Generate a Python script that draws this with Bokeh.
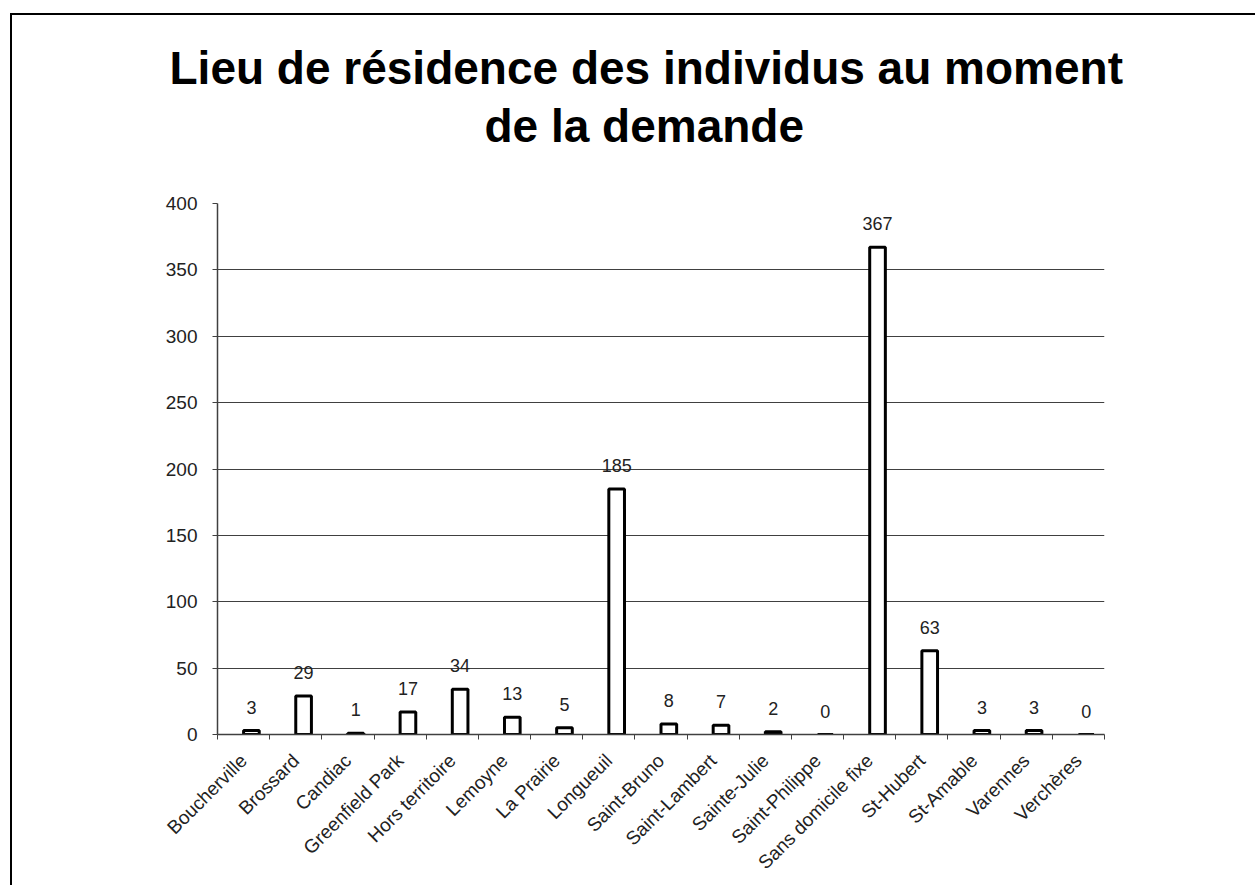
import numpy as np
from bokeh.plotting import figure
from bokeh.models import (ColumnDataSource, LabelSet, FixedTicker, Range1d, Title)
from bokeh.core.properties import value
from bokeh.embed import file_html
from bokeh.resources import INLINE

categories = ["Boucherville", "Brossard", "Candiac", "Greenfield Park",
              "Hors territoire", "Lemoyne", "La Prairie", "Longueuil",
              "Saint-Bruno", "Saint-Lambert", "Sainte-Julie", "Saint-Philippe",
              "Sans domicile fixe", "St-Hubert", "St-Amable", "Varennes",
              "Verchères"]
values = [3, 29, 1, 17, 34, 13, 5, 185, 8, 7, 2, 0, 367, 63, 3, 3, 0]
y_ticks = [0, 50, 100, 150, 200, 250, 300, 350, 400]
title_line1 = "Lieu de résidence des individus au moment"
title_line2 = "de la demande"

n = len(categories)
idx = np.arange(n)
centers = idx + 0.5
bar_x = centers + 0.15

src = ColumnDataSource(dict(x=bar_x, top=values, label=[str(v) for v in values]))

# page geometry; the chart's outer border is painted as a CSS background
W, H = 1258, 885
FL, FT, FR, FB = 217, 203, 1104, 734   # frame edges in page pixels
border_css = {
    "background-image": "linear-gradient(black, black), linear-gradient(black, black)",
    "background-position": "10px 13px, 10px 13px",
    "background-size": "2px 100%, 100% 2px",
    "background-repeat": "no-repeat",
    "background-color": "white",
}
p = figure(width=W, height=H, output_backend="svg", toolbar_location=None,
           x_range=Range1d(0, n), y_range=Range1d(0, 400),
           min_border_left=FL, min_border_right=W - FR,
           min_border_top=FT, min_border_bottom=H - FB,
           background_fill_color="white", border_fill_alpha=0,
           styles=border_css)
p.outline_line_color = None

TFS = "46px"
p.title.text = title_line1
p.title.align = "left"
p.title.offset = -48
p.title.text_font = "Liberation Sans"
p.title.text_font_size = TFS
p.title.text_font_style = "bold"
p.title.text_color = "black"
p.title.standoff = 4
spacer = Title(text=" ", text_font_size="1px", standoff=47)
p.add_layout(spacer, "above")
t2 = Title(text=title_line2, align="left", offset=267, text_font="Liberation Sans",
           text_font_size=TFS, text_font_style="bold", text_color="black",
           standoff=4)
p.add_layout(t2, "above")

p.vbar(x="x", top="top", bottom=0, width=0.3, source=src,
       fill_color="white", line_color="black", line_width=3)

labels = LabelSet(x="x", y="top", text="label", source=src, y_offset=17,
                  text_align="center", text_baseline="alphabetic",
                  text_font=value("Liberation Sans"), text_font_size="18px",
                  text_color="#222222")
p.add_layout(labels)

# axes
xax = p.xaxis[0]
xax.ticker = FixedTicker(ticks=list(centers), minor_ticks=list(range(n + 1)))
xax.major_label_overrides = {float(c): cat for c, cat in zip(centers, categories)}
xax.major_label_orientation = np.pi / 4
xax.major_tick_line_color = None
xax.minor_tick_line_color = "#404040"
xax.minor_tick_out = 5
xax.minor_tick_in = 0
xax.axis_line_color = "#404040"
xax.axis_line_width = 1.5
xax.major_label_text_font = "Liberation Sans"
xax.major_label_text_font_size = "19px"
xax.major_label_text_color = "#222222"
xax.major_label_standoff = 17

yax = p.yaxis[0]
yax.ticker = FixedTicker(ticks=y_ticks)
yax.minor_tick_line_color = None
yax.major_tick_out = 5
yax.major_tick_in = 0
yax.major_tick_line_color = "#404040"
yax.axis_line_color = "#404040"
yax.axis_line_width = 1.5
yax.major_label_text_font = "Liberation Sans"
yax.major_label_text_font_size = "19px"
yax.major_label_text_color = "#222222"
yax.major_label_standoff = 15

p.xgrid.grid_line_color = None
p.ygrid.ticker = FixedTicker(ticks=y_ticks)
p.ygrid.grid_line_color = "#404040"
p.ygrid.grid_line_width = 1

open("out.html", "w").write(file_html(p, INLINE))
